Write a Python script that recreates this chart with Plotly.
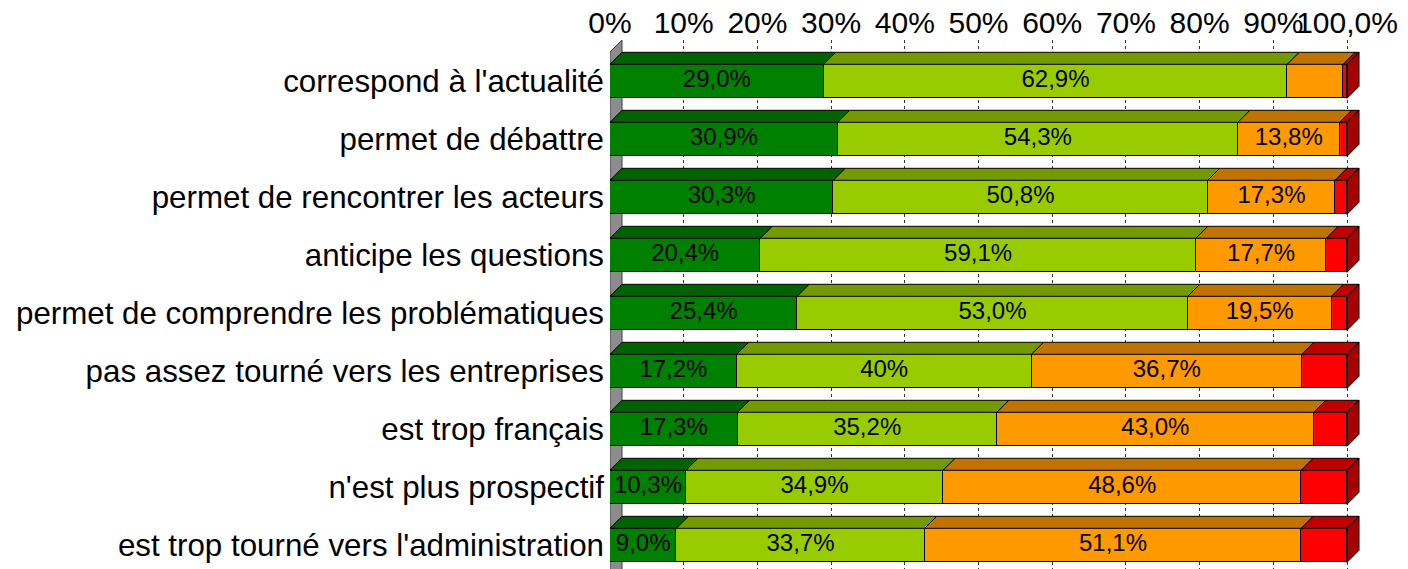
import plotly.graph_objects as go

# ---------------- data ----------------
categories = [
    "correspond à l'actualité",
    "permet de débattre",
    "permet de rencontrer les acteurs",
    "anticipe les questions",
    "permet de comprendre les problématiques",
    "pas assez tourné vers les entreprises",
    "est trop français",
    "n'est plus prospectif",
    "est trop tourné vers l'administration",
]
dark_green = [29.0, 30.9, 30.3, 20.4, 25.4, 17.2, 17.3, 10.3, 9.0]
light_green = [62.9, 54.3, 50.8, 59.1, 53.0, 40.0, 35.2, 34.9, 33.7]
orange = [7.6, 13.8, 17.3, 17.7, 19.5, 36.7, 43.0, 48.6, 51.1]
red = [0.5, 1.0, 1.6, 2.8, 2.1, 6.1, 4.5, 6.2, 6.2]

dark_green_labels = ["29,0%", "30,9%", "30,3%", "20,4%", "25,4%", "17,2%", "17,3%", "10,3%", "9,0%"]
light_green_labels = ["62,9%", "54,3%", "50,8%", "59,1%", "53,0%", "40%", "35,2%", "34,9%", "33,7%"]
orange_labels = ["", "13,8%", "17,3%", "17,7%", "19,5%", "36,7%", "43,0%", "48,6%", "51,1%"]
red_labels = ["", "", "", "", "", "", "", "", ""]

tick_values = [0, 10, 20, 30, 40, 50, 60, 70, 80, 90, 100]
tick_labels = ["0%", "10%", "20%", "30%", "40%", "50%", "60%", "70%", "80%", "90%", "100,0%"]

# ---------------- style ----------------
W, H = 1408, 569
M_L, M_R, M_T, M_B = 610, 30, 40, 0
PX_PER_PCT = 7.37
ROW_PX = 58.0
FIRST_ROW_PX = 81.3
BAR_W = 34.0 / ROW_PX
DEPTH_PX = 12.0
FONT = "Liberation Sans, Arial, sans-serif"

x_max = (W - M_L - M_R) / PX_PER_PCT
y_top = (M_T - FIRST_ROW_PX) / ROW_PX
y_bot = (H - M_B - FIRST_ROW_PX) / ROW_PX
dx = DEPTH_PX / PX_PER_PCT
dy = DEPTH_PX / ROW_PX

series = [
    ("dark", dark_green, dark_green_labels, "#008000", "#006200", "#005000"),
    ("light", light_green, light_green_labels, "#99CC00", "#739A00", "#5f8000"),
    ("orange", orange, orange_labels, "#FF9900", "#C07300", "#a06000"),
    ("red", red, red_labels, "#FF0000", "#C00000", "#A80000"),
]

rows = list(range(len(categories)))
fig = go.Figure()

# side wall at x = 0 (drawn between gridlines and traces)
wy0 = y_bot + 0.3
wy1 = y_top + dy
wall_path = (f"M 0,{wy0} L 0,{wy1} L {dx},{wy1 - dy} "
             f"L {dx},{wy0 - dy} Z")
fig.add_shape(type="path", path=wall_path, xref="x", yref="y",
              fillcolor="#8c8c8c", line=dict(color="#404040", width=1),
              layer="between")

# front faces
starts = [0.0] * len(rows)
seg_starts = []
for name, vals, labels, front, top, side in series:
    fig.add_trace(go.Bar(
        y=rows, x=vals, base=starts[:], orientation="h", width=BAR_W,
        marker=dict(color=front, line=dict(color="black", width=1)),
        showlegend=False, hoverinfo="skip",
    ))
    seg_starts.append(starts[:])
    starts = [s + v for s, v in zip(starts, vals)]

# top faces
for (name, vals, labels, front, top, side), st in zip(series, seg_starts):
    px, py = [], []
    for i, (a, v) in enumerate(zip(st, vals)):
        b = a + v
        yt = i - BAR_W / 2
        px += [a, b, b + dx, a + dx, a, None]
        py += [yt, yt, yt - dy, yt - dy, yt, None]
    fig.add_trace(go.Scatter(x=px, y=py, mode="lines", fill="toself",
                             fillcolor=top, line=dict(color="black", width=1),
                             hoverinfo="skip", showlegend=False))

# right side faces (end of the stack)
last_color = series[-1][5]
px, py = [], []
for i, e in enumerate(starts):
    yt = i - BAR_W / 2
    yb = i + BAR_W / 2
    px += [e, e + dx, e + dx, e, e, None]
    py += [yt, yt - dy, yb - dy, yb, yt, None]
fig.add_trace(go.Scatter(x=px, y=py, mode="lines", fill="toself",
                         fillcolor=last_color, line=dict(color="black", width=1),
                         hoverinfo="skip", showlegend=False))

# value labels
for (name, vals, labels, front, top, side), st in zip(series, seg_starts):
    cx = [a + v / 2 for a, v in zip(st, vals)]
    fig.add_trace(go.Scatter(x=cx, y=rows, mode="text", text=labels,
                             textfont=dict(family=FONT, size=24, color="black"),
                             hoverinfo="skip", showlegend=False))

fig.update_layout(
    width=W, height=H,
    margin=dict(l=M_L, r=M_R, t=M_T, b=M_B, pad=0),
    paper_bgcolor="white", plot_bgcolor="white",
    barmode="overlay", bargap=0,
    font=dict(family=FONT, color="black"),
    showlegend=False,
)
fig.update_xaxes(
    range=[0, x_max], side="top", tickmode="array",
    tickvals=tick_values, ticktext=tick_labels, tickangle=0,
    tickfont=dict(family=FONT, size=30, color="black"),
    showgrid=True, gridcolor="#333333", gridwidth=1, griddash="dot",
    zeroline=False, showline=False, ticks="", automargin=False,
    ticklabelstandoff=0, fixedrange=True,
)
fig.update_yaxes(
    range=[y_bot, y_top], tickmode="array", tickvals=rows, ticktext=categories,
    tickfont=dict(family=FONT, size=31.3, color="black"),
    showgrid=False, zeroline=False, showline=False, ticks="",
    ticklabelstandoff=5, automargin=False, fixedrange=True,
)

fig.write_html(
    "out.html",
    config={"displayModeBar": False},
    post_script="document.body.style.margin='0';document.body.style.overflow='hidden';",
)
